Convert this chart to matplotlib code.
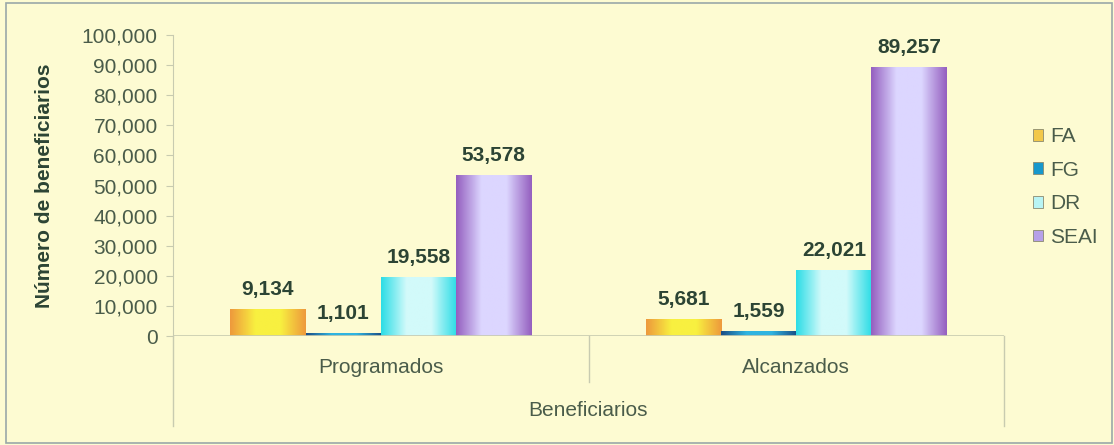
import numpy as np
import matplotlib.pyplot as plt
from matplotlib.colors import LinearSegmentedColormap
from matplotlib.patches import Rectangle

plt.rcParams['font.family'] = ['Liberation Sans', 'DejaVu Sans']

categories = ["Programados", "Alcanzados"]
series = ["FA", "FG", "DR", "SEAI"]
values = {
    "FA": [9134, 5681],
    "FG": [1101, 1559],
    "DR": [19558, 22021],
    "SEAI": [53578, 89257],
}
# edge colour, centre colour for the horizontal shading of each series
shades = {
    "FA": ("#EE9A3C", "#F8F040"),
    "FG": ("#1A4E86", "#2FB4E0"),
    "DR": ("#2EDDE6", "#D2FAFA"),
    "SEAI": ("#9560C0", "#DCD6FF"),
}
legend_colors = {"FA": "#F2C84A", "FG": "#1798CC", "DR": "#B8F4F4", "SEAI": "#B6A0E8"}

bg = "#FDFBD2"
tick_color = "#4A5C4A"
label_color = "#2C4434"
line_color = "#C8CBB0"
fs = 15

fig = plt.figure(figsize=(11.14, 4.45), dpi=100, facecolor=bg)
ax = fig.add_axes([173 / 1114, 1 - 336 / 445, (1004 - 173) / 1114, (336 - 35) / 445])
ax.set_facecolor(bg)

x = np.arange(len(categories))
bw = 0.181
offsets = (np.arange(len(series)) - 1.5) * bw

for i, s in enumerate(series):
    edge, mid = shades[s]
    cmap = LinearSegmentedColormap.from_list(s, [edge, mid, mid, edge])
    grad = np.linspace(0, 1, 64).reshape(1, -1)
    bars = ax.bar(x + offsets[i], values[s], bw, color="none", edgecolor="none")
    for b, v in zip(bars, values[s]):
        x0 = b.get_x()
        im = ax.imshow(grad, cmap=cmap, aspect="auto", interpolation="bilinear",
                       extent=(x0, x0 + bw, 0, v), zorder=2)
        im.set_clip_path(b)
        ax.text(x0 + bw / 2, v + 3300, f"{v:,}", ha="center", va="bottom",
                fontsize=fs, fontweight="bold", color=label_color)

ax.set_xlim(-0.5, 1.5)
ax.set_ylim(0, 100000)
ax.set_yticks(np.arange(0, 100001, 10000))
ax.set_yticklabels([f"{t:,}" for t in range(0, 100001, 10000)])
ax.tick_params(axis="y", colors=line_color, labelcolor=tick_color, labelsize=fs,
               length=5, width=0.8, pad=6)
ax.set_xticks([])
for side in ["top", "right", "bottom"]:
    ax.spines[side].set_visible(False)
ax.spines["left"].set_color(line_color)
ax.axhline(0, color=line_color, lw=1.2, zorder=3)

# category box below the zero line
ax.plot([-0.5, -0.5], [0, -0.30], transform=ax.get_xaxis_transform(),
        color=line_color, lw=1, clip_on=False)
ax.plot([0.5, 0.5], [0, -0.153], transform=ax.get_xaxis_transform(),
        color=line_color, lw=1, clip_on=False)
ax.plot([1.5, 1.5], [0, -0.30], transform=ax.get_xaxis_transform(),
        color=line_color, lw=1, clip_on=False)
for xi, c in zip(x, categories):
    ax.text(xi, -0.106, c, transform=ax.get_xaxis_transform(), ha="center",
            va="center", fontsize=fs, color=tick_color)
ax.text(0.5, -0.246, "Beneficiarios", transform=ax.get_xaxis_transform(),
        ha="center", va="center", fontsize=fs, color=tick_color)

ax.set_ylabel("Número de beneficiarios", fontsize=fs, fontweight="bold",
              color=label_color, labelpad=20)

handles = [Rectangle((0, 0), 1, 1, facecolor=legend_colors[s], edgecolor="#8A8A70", lw=0.6)
           for s in series]
leg = fig.legend(handles, series, loc="center left", bbox_to_anchor=(1014 / 1114, 1 - 187 / 445),
                 frameon=False, fontsize=fs, handlelength=0.5, handleheight=0.5,
                 handletextpad=0.35, labelspacing=0.7)
for t in leg.get_texts():
    t.set_color(tick_color)

fig.patches.append(Rectangle((6 / 1114, 2 / 445), 1106 / 1114, 440 / 445,
                             transform=fig.transFigure, fill=False,
                             edgecolor="#9AA8A8", lw=1.2))

fig.savefig("out.png", dpi=100, facecolor=bg)
